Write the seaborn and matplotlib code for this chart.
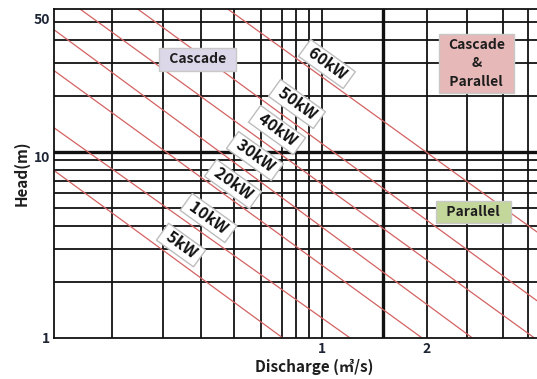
import numpy as np
import pandas as pd
import matplotlib
matplotlib.use("Agg")
import matplotlib.pyplot as plt
import matplotlib.transforms as mtransforms
from matplotlib.ticker import NullLocator, NullFormatter, FixedLocator, FixedFormatter
import seaborn as sns

# ---------------- data ----------------
power_labels = ["5kW", "10kW", "20kW", "30kW", "40kW", "50kW", "60kW"]
q_start = [0.171, 0.171, 0.171, 0.171, 0.203, 0.297, 0.538]   # discharge at upper-left end
h_start = [7.9, 13.4, 27.2, 45.1, 58.3, 58.3, 58.3]            # head at upper-left end
q_end = [0.77, 1.20, 1.93, 2.69, 4.05, 4.13, 4.13]             # discharge at lower-right end
h_end = [1.0, 1.0, 1.0, 1.0, 1.0, 1.58, 3.70]                  # head at lower-right end

x_grid = [0.25, 0.35, 0.45, 0.56, 0.67, 0.77, 0.84, 0.92, 1.0, 1.5, 2.0, 2.6, 3.3, 3.9]
x_grid_bold = [1.5]
y_grid = [2, 3, 4, 5, 6, 7, 8, 9, 10, 20, 30, 40, 50]
y_grid_bold = [10]

x_ticks = [1.0, 2.0]
x_tick_labels = ["1", "2"]
y_ticks = [1, 10, 50]
y_tick_labels = ["1", "10", "50"]

region_texts = ["  Cascade  ", "Cascade\n&\n  Parallel  ", "  Parallel  "]
region_colors = ["#dcd8e9", "#e6b8b7", "#c4d79b"]

# ---------------- build long-form table ----------------
rows = []
for lab, qs, hs, qe, he in zip(power_labels, q_start, h_start, q_end, h_end):
    rows.append({"line": lab, "Q": qs, "H": hs})
    rows.append({"line": lab, "Q": qe, "H": he})
df = pd.DataFrame(rows)

# ---------------- figure ----------------
sns.set_theme(style="white")
plt.rcParams["font.family"] = ["Noto Sans CJK KR", "DejaVu Sans"]

fig = plt.figure(figsize=(5.37, 3.79), dpi=100)
ax = fig.add_axes([0.1006, 0.109, 0.8994, 0.8665])
ax.set_xscale("log")
ax.set_yscale("log")
ax.set_xlim(0.1706, 4.13)
ax.set_ylim(1.0, 58.3)

grid_c = "#111111"
for v in x_grid:
    ax.axvline(v, color=grid_c, lw=2.4 if v in x_grid_bold else 1.3, zorder=1)
for v in y_grid:
    ax.axhline(v, color=grid_c, lw=2.4 if v in y_grid_bold else 1.3, zorder=1)

sns.lineplot(data=df, x="Q", y="H", units="line", estimator=None,
             color="#d46262", lw=0.9, legend=False, ax=ax, zorder=2)

# spines
for s in ["left", "top", "bottom"]:
    ax.spines[s].set_visible(True)
    ax.spines[s].set_color("#111111")
    ax.spines[s].set_linewidth(1.3)
ax.spines["right"].set_visible(False)

# ticks
for axis in (ax.xaxis, ax.yaxis):
    axis.set_minor_locator(NullLocator())
    axis.set_minor_formatter(NullFormatter())
ax.xaxis.set_major_locator(FixedLocator(x_ticks))
ax.xaxis.set_major_formatter(FixedFormatter(x_tick_labels))
ax.yaxis.set_major_locator(FixedLocator(y_ticks))
ax.yaxis.set_major_formatter(FixedFormatter(y_tick_labels))
ax.tick_params(length=0, pad=3, labelsize=10, labelcolor="#1e2535")
for t in ax.get_xticklabels() + ax.get_yticklabels():
    t.set_fontweight("bold")

# small hand-placement offsets of the y labels as in the reference
y_label_shift_px = {"10": -5, "50": 3}
fig.canvas.draw()
for t in ax.get_yticklabels():
    dy = y_label_shift_px.get(t.get_text(), 0)
    if dy:
        t.set_transform(t.get_transform() +
                        mtransforms.ScaledTranslation(0, dy / 100.0, fig.dpi_scale_trans))

ax.set_xlabel("Discharge (㎥/s)", fontsize=11, fontweight="bold", color="#1e1e1e")
ax.set_ylabel("Head(m)", fontsize=11, fontweight="bold", color="#1e1e1e")
ax.xaxis.set_label_coords(0.539, -0.089)
ax.yaxis.set_label_coords(-0.068, 0.5015)
ax.xaxis.label.set_va("center")
ax.yaxis.label.set_va("center")

# power labels on the lines (axes-fraction centres)
label_pos = [(0.263, 0.282), (0.320, 0.3645), (0.3706, 0.468), (0.416, 0.553),
             (0.4617, 0.6325), (0.503, 0.7116), (0.565, 0.8335)]
for lab, (px, py) in zip(power_labels, label_pos):
    ax.text(px, py, " " + lab + " ", transform=ax.transAxes, rotation=-35.75,
            rotation_mode="anchor", ha="center", va="center", fontsize=11.5,
            fontweight="bold", color="#111111", zorder=5,
            bbox=dict(boxstyle="square,pad=0.15", fc="white", ec="#bdbdbd", lw=1.0))

# region boxes
region_pos = [(0.2971, 0.8471), (0.8747, 0.835), (0.8685, 0.3818)]
for txt, col, (px, py) in zip(region_texts, region_colors, region_pos):
    ax.text(px, py, txt, transform=ax.transAxes, ha="center", va="center",
            multialignment="center", linespacing=1.4, fontsize=10,
            fontweight="bold", color="#1e1e1e", zorder=5,
            bbox=dict(boxstyle="square,pad=0.3", fc=col, ec="#c8c8c8", lw=1.0))

fig.savefig("out.png", dpi=100, facecolor="white")
